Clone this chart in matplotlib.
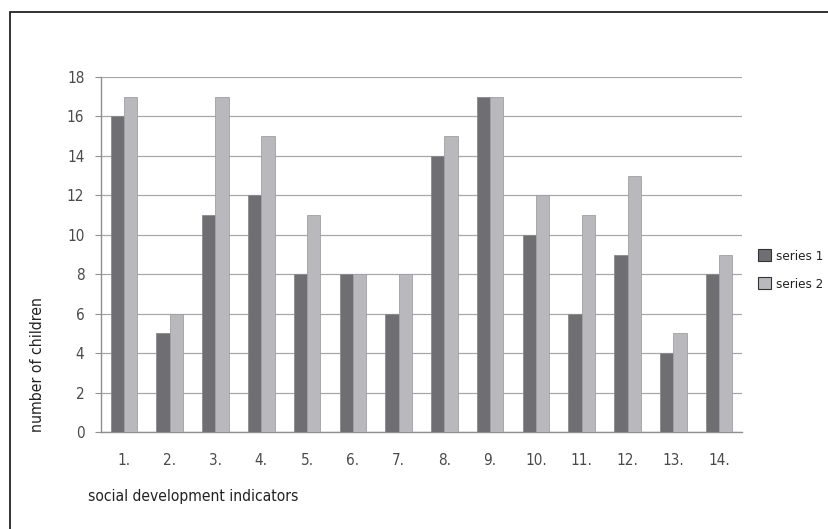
import matplotlib
matplotlib.use("Agg")
import matplotlib.pyplot as plt
import numpy as np
from matplotlib.patches import Rectangle

categories = ["1.", "2.", "3.", "4.", "5.", "6.", "7.", "8.", "9.", "10.", "11.", "12.", "13.", "14."]
series1 = [16, 5, 11, 12, 8, 8, 6, 14, 17, 10, 6, 9, 4, 8]
series2 = [17, 6, 17, 15, 11, 8, 8, 15, 17, 12, 11, 13, 5, 9]
yticks = [0, 2, 4, 6, 8, 10, 12, 14, 16, 18]

plt.rcParams['font.family'] = ['DejaVu Sans']
plt.rcParams['font.stretch'] = 'condensed'

W, H = 829, 529
fig = plt.figure(figsize=(W / 100, H / 100), dpi=100)
fig.patch.set_facecolor('white')

# frame around the chart
fig.patches.append(Rectangle((10 / W, -0.1), 1.2, (H - 12) / H + 0.1,
                             transform=fig.transFigure, fill=False,
                             edgecolor='#222222', linewidth=1.3))

ax_l, ax_r, ax_t, ax_b = 101, 742, 77, 432
ax = fig.add_axes([ax_l / W, 1 - ax_b / H, (ax_r - ax_l) / W, (ax_b - ax_t) / H])

x = np.arange(len(categories))
bw = 0.29
dark = '#6f6f73'
light = '#b9b9bd'
ax.bar(x - bw / 2, series1, width=bw, color=dark, edgecolor='#8a8a8e', linewidth=0.6,
       label='series 1', zorder=3)
ax.bar(x + bw / 2, series2, width=bw, color=light, edgecolor='#a0a0a4', linewidth=0.6,
       label='series 2', zorder=3)

ax.set_xlim(-0.5, len(categories) - 0.5)
ax.set_ylim(0, 18)
ax.set_yticks(yticks)
ax.set_xticks(x)
ax.set_xticklabels(categories)
ax.yaxis.grid(True, color='#a8a8a8', linewidth=0.9, zorder=0)
ax.set_axisbelow(True)

for s in ['top', 'right']:
    ax.spines[s].set_visible(False)
for s in ['left', 'bottom']:
    ax.spines[s].set_color('#8f8f8f')
    ax.spines[s].set_linewidth(1.0)

ax.tick_params(axis='y', length=4, color='#8f8f8f', labelsize=11, labelcolor='#4a4a4a', pad=8)
ax.tick_params(axis='x', length=0, labelsize=11, labelcolor='#4a4a4a', pad=15)

fig.text(88 / W, 1 - 497 / H, 'social development indicators', fontsize=11.2,
         color='#222222', ha='left', va='center')
fig.text(38 / W, 1 - 364 / H, 'number of children', fontsize=11.3, color='#222222',
         rotation=90, ha='center', va='center')

leg = ax.legend(loc='center left', bbox_to_anchor=(1.0, 0.456), frameon=False,
                fontsize=9.5, handlelength=1.0, handleheight=1.0, handletextpad=0.4,
                labelspacing=1.1, borderaxespad=0.8)
for t in leg.get_texts():
    t.set_color('#222222')
for h in leg.legend_handles:
    h.set_edgecolor('#333333')
    h.set_linewidth(0.8)

fig.savefig('out.png', dpi=100, facecolor='white')
